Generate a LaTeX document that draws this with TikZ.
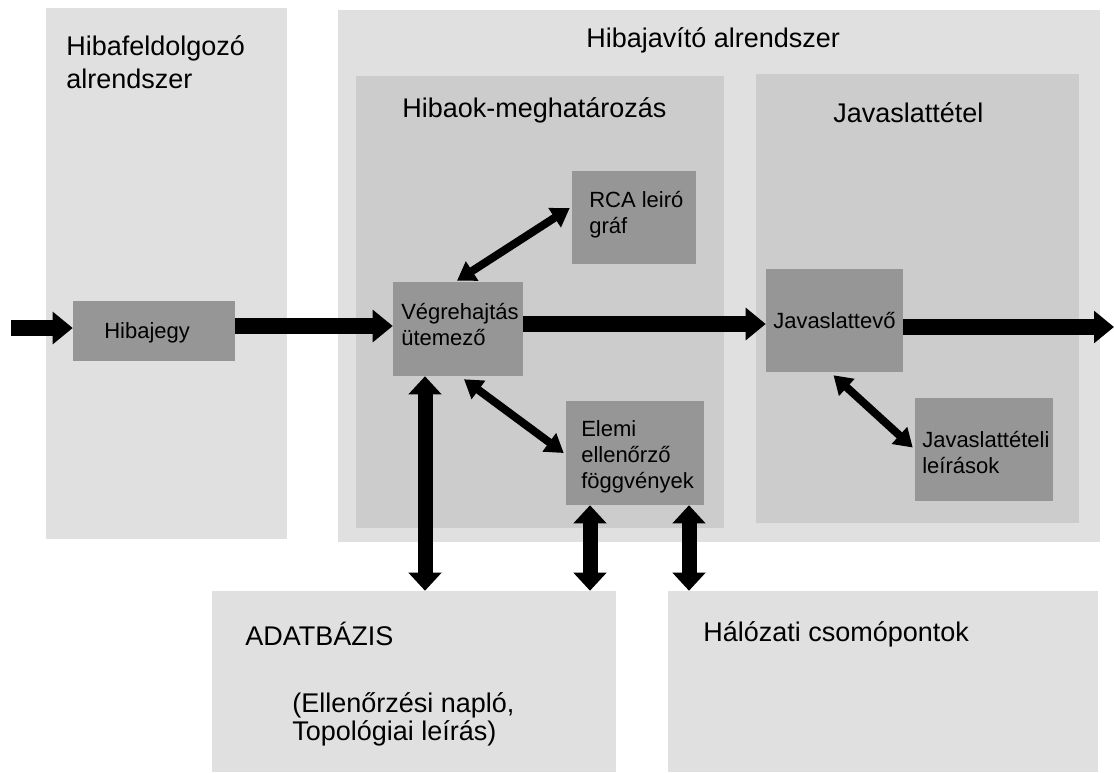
\documentclass[tikz,border=0pt]{standalone}
\usepackage{fontspec}
\setmainfont{Liberation Sans}
\usetikzlibrary{arrows.meta,fit,calc}
\definecolor{panelA}{HTML}{E0E0E0}
\definecolor{panelB}{HTML}{CCCCCC}
\definecolor{boxC}{HTML}{969696}
\begin{document}
\begin{tikzpicture}[x=0.75pt,y=-0.75pt,
 outerpanel/.style={fill=panelA, draw=none, inner sep=0},
 innerpanel/.style={fill=panelB, draw=none, inner sep=0},
 darkbox/.style={fill=boxC, draw=none, inner sep=0},
 titletext/.style={anchor=base west, inner sep=0, font=\fontsize{20.25}{24}\selectfont},
 boxtext/.style={anchor=base west, inner sep=0, font=\fontsize{16.5}{19.5}\selectfont},
 bigarrow/.style={line width=12pt, -{Triangle[length=15pt,width=23.5pt]}},
 vdarrow/.style={line width=11.25pt, {Triangle[length=13.5pt,width=24pt]}-{Triangle[length=13.5pt,width=24pt]}},
 diagarrow/.style={line width=6pt, {Triangle[length=13.5pt,width=16.5pt]}-{Triangle[length=13.5pt,width=16.5pt]}},
]
\useasboundingbox[fill=white] (0,0) rectangle (1114,772);

% panels
\node[outerpanel, fit={(46,8) (287,539)}] (left) {};
\node[outerpanel, fit={(338,10) (1100,542)}] (outer) {};
\node[innerpanel, fit={(356,76) (724,528)}] (hibaok) {};
\node[innerpanel, fit={(756,74) (1079,523)}] (javp) {};
\node[outerpanel, fit={(212,591) (616,772)}] (adat) {};
\node[outerpanel, fit={(668,591) (1098,772)}] (halo) {};

% boxes
\node[darkbox, fit={(73,301) (235,361)}] (hib) {};
\node[darkbox, fit={(393,282) (523,376)}] (vegr) {};
\node[darkbox, fit={(572,171) (696,264)}] (rca) {};
\node[darkbox, fit={(566,401) (704,505)}] (elem) {};
\node[darkbox, fit={(766,269) (903,372)}] (jav) {};
\node[darkbox, fit={(915,398) (1053,501)}] (jtl) {};

% free ends
\coordinate (in) at (11,328);
\coordinate (out) at (1114,327);

% arrows
\draw[bigarrow] (in) -- (in -| hib.west);
\draw[bigarrow] (hib.east |- 0,326) -- (vegr.west |- 0,326);
\draw[bigarrow] (vegr.east |- 0,324) -- (jav.west |- 0,324);
\draw[bigarrow] (jav.east |- out) -- (out);
\draw[vdarrow] (vegr.south -| 425,0) -- (adat.north -| 425,0);
\draw[vdarrow] (elem.south -| 590,0) -- (adat.north -| 590,0);
\draw[vdarrow] (elem.south -| 689,0) -- (halo.north -| 689,0);
\draw[diagarrow] ($(vegr.north)+(-1,-1)$) -- ($(rca.west)+(-2,-9.5)$);
\draw[diagarrow] ($(vegr.south)+(6,3)$) -- ($(elem.west)+(-2,0)$);
\draw[diagarrow] ($(jav.south)+(-1,3)$) -- ($(jtl.west)+(-2,-2)$);

% texts
\node[titletext] (t1) at (66,55) {Hibafeldolgozó};
\node[titletext] (t2) at (66,88) {alrendszer};
\node[titletext] (t3) at (586,47) {Hibajavító alrendszer};
\node[titletext] (t4) at (402,117) {Hibaok-meghatározás};
\node[titletext] (t5) at (833,122) {Javaslattétel};
\node[titletext] (t6) at (245,645) {ADATBÁZIS};
\node[titletext] (t7) at (292,712) {(Ellenőrzési napló,};
\node[titletext] (t8) at (292,740) {Topológiai leírás)};
\node[titletext] (t9) at (703,641) {Hálózati csomópontok};

\node[boxtext] (b1) at (104,338) {Hibajegy};
\node[boxtext] (b2) at (401,319) {Végrehajtás};
\node[boxtext] (b3) at (401,345) {ütemező};
\node[boxtext] (b4) at (589,207) {RCA leiró};
\node[boxtext] (b5) at (589,233) {gráf};
\node[boxtext] (b6) at (581,436) {Elemi};
\node[boxtext] (b7) at (581,462) {ellenőrző};
\node[boxtext] (b8) at (581,488) {föggvények};
\node[boxtext] (b9) at (773,328) {Javaslattevő};
\node[boxtext] (b10) at (922,447) {Javaslattételi};
\node[boxtext] (b11) at (922,473) {leírások};
\end{tikzpicture}
\end{document}
